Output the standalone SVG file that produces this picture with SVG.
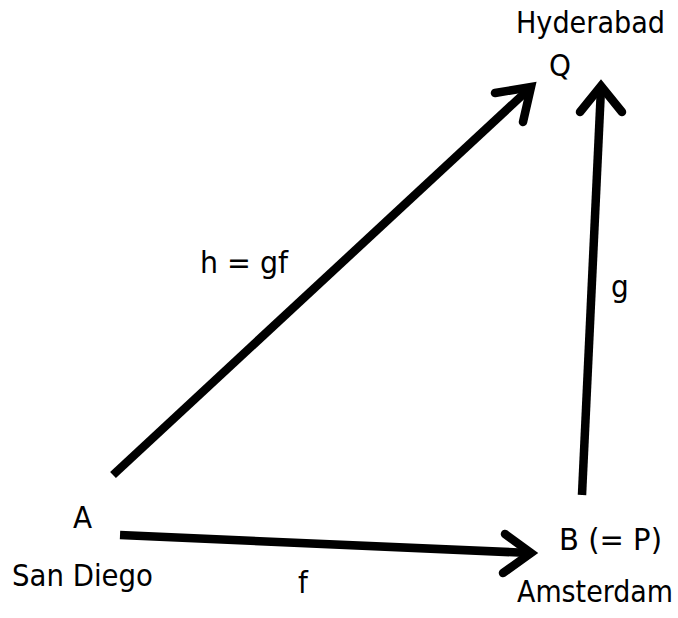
<svg xmlns="http://www.w3.org/2000/svg" width="678" height="618" viewBox="0 0 678 618">
<style>
text{font-family:"DejaVu Sans Condensed","DejaVu Sans","Liberation Sans",sans-serif;font-size:31px;fill:#000}
.shaft{stroke:#000;stroke-width:8.5;fill:none;stroke-linecap:butt}
.head{stroke:#000;stroke-width:8.5;fill:none;stroke-linecap:round;stroke-linejoin:miter;stroke-miterlimit:10}
</style>
<rect width="678" height="618" fill="#fff"/>
<g id="connectors">
<g id="edge-h">
<line class="shaft" x1="113" y1="475" x2="529" y2="89"/>
<polyline class="head" points="495,93 531,87 523,122"/>
</g>
<g id="edge-g">
<line class="shaft" x1="582" y1="495" x2="601" y2="88"/>
<polyline class="head" points="580,112 601,86 622,112"/>
</g>
<g id="edge-f">
<line class="shaft" x1="120" y1="535" x2="530" y2="553"/>
<polyline class="head" points="505,534 531,553 503,573"/>
</g>
</g>
<g id="node-Q">
<text x="516" y="33" textLength="149" lengthAdjust="spacingAndGlyphs">Hyderabad</text>
<text x="549" y="76">Q</text>
</g>
<g id="node-A">
<text x="73" y="528">A</text>
<text x="12" y="586" textLength="141" lengthAdjust="spacingAndGlyphs">San Diego</text>
</g>
<g id="node-B">
<text x="559" y="550" textLength="103" lengthAdjust="spacingAndGlyphs">B (= P)</text>
<text x="517" y="602" textLength="156" lengthAdjust="spacingAndGlyphs">Amsterdam</text>
</g>
<g id="labels">
<text x="200" y="273" textLength="88" lengthAdjust="spacingAndGlyphs">h = gf</text>
<text x="611" y="297">g</text>
<text x="298" y="593">f</text>
</g>
</svg>
